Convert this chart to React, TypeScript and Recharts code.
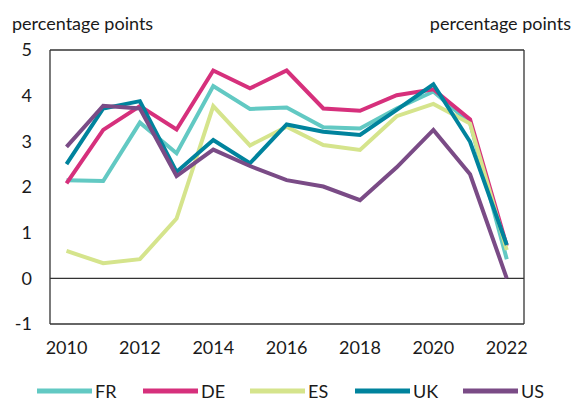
import React from "react";
import { LineChart, Line, XAxis, YAxis, ReferenceLine, Legend } from "recharts";

if (typeof document !== "undefined") {
  document.body.style.margin = "0";
}

const years = [2010, 2011, 2012, 2013, 2014, 2015, 2016, 2017, 2018, 2019, 2020, 2021, 2022];
const FR = [2.15, 2.13, 3.41, 2.74, 4.21, 3.71, 3.74, 3.31, 3.28, 3.72, 4.09, 3.4, 0.42];
const DE = [2.08, 3.25, 3.77, 3.26, 4.55, 4.16, 4.55, 3.72, 3.67, 4.01, 4.14, 3.48, 0.71];
const ES = [0.6, 0.33, 0.42, 1.31, 3.77, 2.91, 3.32, 2.92, 2.81, 3.55, 3.82, 3.39, 0.62];
const UK = [2.5, 3.72, 3.88, 2.33, 3.03, 2.52, 3.37, 3.21, 3.14, 3.69, 4.25, 2.99, 0.73];
const US = [2.88, 3.78, 3.72, 2.24, 2.82, 2.46, 2.15, 2.01, 1.71, 2.43, 3.25, 2.28, 0.0];
const xTicks = [2010, 2012, 2014, 2016, 2018, 2020, 2022];
const yTicks = [-1, 0, 1, 2, 3, 4, 5];

const seriesList = [
  { key: "FR", values: FR, color: "#62C9C3" },
  { key: "DE", values: DE, color: "#D6307C" },
  { key: "ES", values: ES, color: "#D5E48C" },
  { key: "UK", values: UK, color: "#00839D" },
  { key: "US", values: US, color: "#7A4B86" },
];

const data = years.map((y, i) => {
  const row: any = { year: y };
  seriesList.forEach((s) => (row[s.key] = s.values[i]));
  return row;
});

const FONT = "Lato, 'Open Sans', sans-serif";
const FS = 18;
const tickStyle = { fontSize: FS, fill: "#1a1a1a", fontFamily: FONT };

const renderLegend = () => {
  const positions = [37, 143, 250, 355, 463];
  return (
    <svg width={572} height={30} style={{ display: "block" }}>
      {seriesList.map((s, i) => (
        <g key={s.key}>
          <line x1={positions[i]} x2={positions[i] + 55} y1={20} y2={20} stroke={s.color} strokeWidth={5} />
          <text x={positions[i] + 58} y={26.5} fontSize={FS} fontFamily={FONT} fill="#1a1a1a">
            {s.key}
          </text>
        </g>
      ))}
    </svg>
  );
};

export default function App() {
  return (
    <div style={{ position: "relative", width: 572, height: 401, background: "#fff", fontFamily: FONT }}>
      <div style={{ position: "absolute", left: 12, top: 12, fontSize: FS, lineHeight: "22px", color: "#1a1a1a", fontFamily: FONT }}>
        percentage points
      </div>
      <div style={{ position: "absolute", right: 1, top: 12, fontSize: FS, lineHeight: "22px", color: "#1a1a1a", fontFamily: FONT }}>
        percentage points
      </div>
      <LineChart width={572} height={401} data={data} margin={{ top: 50, right: 0, bottom: 19, left: 0 }}>
        <XAxis
          dataKey="year"
          type="number"
          domain={[2009.55, 2022.47]}
          ticks={xTicks}
          allowDataOverflow
          tickLine={false}
          tickSize={0}
          tickMargin={17}
          height={28}
          axisLine={{ stroke: "#333", strokeWidth: 1.3 }}
          tick={tickStyle}
        />
        <YAxis
          yAxisId="l"
          domain={[-1, 5]}
          ticks={yTicks}
          width={50}
          tickLine={false}
          tickSize={0}
          tickMargin={18}
          axisLine={{ stroke: "#333", strokeWidth: 1.3 }}
          tick={tickStyle}
        />
        <YAxis
          yAxisId="r"
          orientation="right"
          domain={[-1, 5]}
          ticks={yTicks}
          width={48}
          tickLine={false}
          tickSize={0}
          tickMargin={17}
          axisLine={{ stroke: "#333", strokeWidth: 1.3 }}
          tick={{ ...tickStyle, textAnchor: "start" }}
        />
        <ReferenceLine yAxisId="l" y={5} stroke="#333" strokeWidth={1.3} />
        <ReferenceLine yAxisId="l" y={0} stroke="#333" strokeWidth={1.3} />
        {seriesList.map((s) => (
          <Line
            key={s.key}
            yAxisId="l"
            type="linear"
            dataKey={s.key}
            stroke={s.color}
            strokeWidth={4}
            dot={false}
            isAnimationActive={false}
          />
        ))}
        <Legend content={renderLegend} verticalAlign="bottom" wrapperStyle={{ left: 0, bottom: 0, width: 572 }} />
      </LineChart>
    </div>
  );
}
